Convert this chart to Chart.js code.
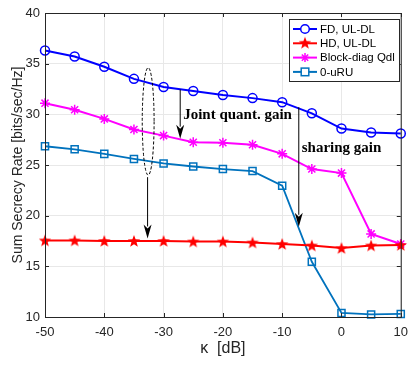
<!DOCTYPE html>
<html>
<head>
<meta charset="utf-8">
<script src="https://cdn.jsdelivr.net/npm/chart.js@4/dist/chart.umd.min.js"></script>
<style>
  html, body { margin: 0; padding: 0; background: #fff; }
  canvas { display: block; }
</style>
</head>
<body>
<canvas id="c" width="416" height="374"></canvas>
<script>
// kappa in dB
const kappa = [-50, -45, -40, -35, -30, -25, -20, -15, -10, -5, 0, 5, 10];
const fdUlDl = [36.3, 35.7, 34.7, 33.5, 32.7, 32.3, 31.9, 31.6, 31.2, 30.1, 28.6, 28.2, 28.1];
const hdUlDl = [17.55, 17.55, 17.5, 17.5, 17.5, 17.45, 17.45, 17.35, 17.2, 17.05, 16.8, 17.05, 17.1];
const blockDiag = [31.1, 30.45, 29.55, 28.5, 27.9, 27.25, 27.2, 27.0, 26.1, 24.6, 24.2, 18.2, 17.2];
const zeroURU = [26.85, 26.55, 26.1, 25.6, 25.15, 24.85, 24.6, 24.4, 22.95, 15.45, 10.4, 10.25, 10.3];
const xTicks = [-50, -40, -30, -20, -10, 0, 10];
const yTicks = [10, 15, 20, 25, 30, 35, 40];
const seriesNames = ['FD, UL-DL', 'HD, UL-DL', 'Block-diag Qdl', '0-uRU'];

// annotation anchors in data units
const ellipse = { x: -32.6, y: 29.3, rx: 1.0, ry: 5.3 };
const arrows = [
  { x: -32.7, from: 23.8, to: 17.75 },
  { x: -27.2, from: 32.45, to: 27.6 },
  { x: -7.2, from: 30.7, to: 18.9 },
];
const notes = [
  { text: 'Joint quant. gain', x: -26.7, y: 29.95 },
  { text: 'sharing gain', x: -6.7, y: 26.7 },
];

const colors = ['#0000ff', '#ff0000', '#ff00ff', '#0072bd'];

function starImage(color) {
  const cv = document.createElement('canvas');
  cv.width = 14; cv.height = 14;
  const g = cv.getContext('2d');
  g.beginPath();
  for (let i = 0; i < 10; i++) {
    const r = i % 2 === 0 ? 6.5 : 2.7;
    const a = -Math.PI / 2 + i * Math.PI / 5;
    const px = 7 + r * Math.cos(a), py = 7.5 + r * Math.sin(a);
    if (i === 0) g.moveTo(px, py); else g.lineTo(px, py);
  }
  g.closePath();
  g.fillStyle = color;
  g.fill();
  return cv;
}
const redStar = starImage(colors[1]);

function pts(ys) {
  return kappa.map((k, i) => ({ x: k, y: ys[i] }));
}

const FONT = 'Liberation Sans, Arial, sans-serif';

const extras = {
  id: 'extras',
  afterDraw(chart) {
    const { ctx, chartArea: a, scales } = chart;
    const xs = scales.x, ys = scales.y;
    ctx.save();
    // axes box
    ctx.strokeStyle = '#262626';
    ctx.lineWidth = 1;
    ctx.strokeRect(a.left + 0.5, a.top + 0.5, a.right - a.left, a.bottom - a.top);
    // inward ticks
    ctx.beginPath();
    xTicks.forEach(v => {
      const px = Math.round(xs.getPixelForValue(v)) + 0.5;
      ctx.moveTo(px, a.bottom); ctx.lineTo(px, a.bottom - 4);
      ctx.moveTo(px, a.top); ctx.lineTo(px, a.top + 4);
    });
    yTicks.forEach(v => {
      const py = Math.round(ys.getPixelForValue(v)) + 0.5;
      ctx.moveTo(a.left, py); ctx.lineTo(a.left + 4, py);
      ctx.moveTo(a.right, py); ctx.lineTo(a.right - 4, py);
    });
    ctx.stroke();

    // dashed ellipse
    const ex = xs.getPixelForValue(ellipse.x), ey = ys.getPixelForValue(ellipse.y);
    const erx = Math.abs(xs.getPixelForValue(ellipse.x + ellipse.rx) - ex);
    const ery = Math.abs(ys.getPixelForValue(ellipse.y + ellipse.ry) - ey);
    ctx.setLineDash([3, 2]);
    ctx.strokeStyle = '#000';
    ctx.beginPath();
    ctx.ellipse(ex, ey, erx, ery, 0, 0, Math.PI * 2);
    ctx.stroke();
    ctx.setLineDash([]);

    // arrows
    arrows.forEach(ar => {
      const px = xs.getPixelForValue(ar.x);
      const y0 = ys.getPixelForValue(ar.from), y1 = ys.getPixelForValue(ar.to);
      ctx.strokeStyle = '#000';
      ctx.lineWidth = 1;
      ctx.beginPath();
      ctx.moveTo(px, y0); ctx.lineTo(px, y1 - 12);
      ctx.stroke();
      ctx.fillStyle = '#000';
      ctx.beginPath();
      ctx.moveTo(px - 4, y1 - 14);
      ctx.lineTo(px, y1 - 10);
      ctx.lineTo(px + 4, y1 - 14);
      ctx.lineTo(px, y1);
      ctx.closePath();
      ctx.fill();
    });

    // text notes
    ctx.fillStyle = '#000';
    ctx.font = 'bold 15px "Liberation Serif", "Times New Roman", serif';
    ctx.textBaseline = 'middle';
    ctx.textAlign = 'left';
    notes.forEach(n => {
      ctx.fillText(n.text, xs.getPixelForValue(n.x), ys.getPixelForValue(n.y));
    });

    // legend
    const lx = 289, ly = 19, lw = 110, lh = 62;
    ctx.fillStyle = '#fff';
    ctx.fillRect(lx, ly, lw, lh);
    ctx.strokeStyle = '#262626';
    ctx.lineWidth = 1;
    ctx.strokeRect(lx + 0.5, ly + 0.5, lw, lh);
    ctx.font = '11.5px ' + FONT;
    ctx.textBaseline = 'middle';
    seriesNames.forEach((name, i) => {
      const yy = ly + 10 + i * 14.3;
      ctx.strokeStyle = colors[i];
      ctx.lineWidth = 2;
      ctx.beginPath();
      ctx.moveTo(lx + 4, yy); ctx.lineTo(lx + 28, yy);
      ctx.stroke();
      const mx = lx + 16;
      if (i === 0) {
        ctx.lineWidth = 1.5;
        ctx.beginPath(); ctx.arc(mx, yy, 4.3, 0, Math.PI * 2); ctx.fillStyle = '#fff'; ctx.fill(); ctx.stroke();
      } else if (i === 1) {
        ctx.drawImage(redStar, mx - 7, yy - 7.5);
      } else if (i === 2) {
        ctx.lineWidth = 1.5;
        ctx.beginPath();
        for (let k = 0; k < 4; k++) {
          const ang = k * Math.PI / 4;
          ctx.moveTo(mx - 4.5 * Math.cos(ang), yy - 4.5 * Math.sin(ang));
          ctx.lineTo(mx + 4.5 * Math.cos(ang), yy + 4.5 * Math.sin(ang));
        }
        ctx.stroke();
      } else {
        ctx.lineWidth = 1.5;
        ctx.fillStyle = '#fff';
        ctx.fillRect(mx - 3.8, yy - 3.8, 7.6, 7.6);
        ctx.strokeRect(mx - 3.8, yy - 3.8, 7.6, 7.6);
      }
      ctx.fillStyle = '#000';
      ctx.fillText(name, lx + 31, yy + 0.5);
    });
    ctx.restore();
  }
};

new Chart(document.getElementById('c'), {
  type: 'line',
  data: {
    datasets: [
      {
        label: seriesNames[0], data: pts(fdUlDl), borderColor: colors[0], borderWidth: 2,
        pointStyle: 'circle', pointRadius: 4.5, pointBorderWidth: 1.5,
        pointBackgroundColor: 'rgba(255,255,255,0)', pointBorderColor: colors[0], clip: false
      },
      {
        label: seriesNames[1], data: pts(hdUlDl), borderColor: colors[1], borderWidth: 2,
        pointStyle: redStar, pointRadius: 6, clip: false
      },
      {
        label: seriesNames[2], data: pts(blockDiag), borderColor: colors[2], borderWidth: 2,
        pointStyle: 'star', pointRadius: 5, pointBorderWidth: 1.5,
        pointBorderColor: colors[2], pointBackgroundColor: colors[2], clip: false
      },
      {
        label: seriesNames[3], data: pts(zeroURU), borderColor: colors[3], borderWidth: 1.8,
        pointStyle: 'rect', pointRadius: 5, pointBorderWidth: 1.5,
        pointBorderColor: colors[3], pointBackgroundColor: 'rgba(255,255,255,0)', clip: false
      },
    ]
  },
  options: {
    responsive: false,
    animation: false,
    devicePixelRatio: 1,
    layout: { padding: { top: 13, right: 11, left: 0, bottom: 0 } },
    plugins: { legend: { display: false }, tooltip: { enabled: false } },
    elements: { line: { tension: 0 } },
    scales: {
      x: {
        type: 'linear', min: -50, max: 10,
        afterBuildTicks: s => { s.ticks = xTicks.map(v => ({ value: v })); },
        afterFit: s => { s.height = 57; },
        ticks: { color: '#262626', font: { family: FONT, size: 13 }, padding: 8, maxRotation: 0 },
        grid: { color: '#e8e8e8', drawTicks: false },
        border: { display: false },
        title: { display: true, text: 'κ  [dB]', color: '#262626', font: { family: FONT, size: 16 }, padding: { top: 0, bottom: 16 } }
      },
      y: {
        min: 10, max: 40,
        afterBuildTicks: s => { s.ticks = yTicks.map(v => ({ value: v })); },
        afterFit: s => { s.width = 45; },
        ticks: { color: '#262626', font: { family: FONT, size: 13 }, padding: 5 },
        grid: { color: '#e8e8e8', drawTicks: false },
        border: { display: false },
        title: { display: true, text: 'Sum Secrecy Rate [bits/sec/Hz]', color: '#262626', font: { family: FONT, size: 14 }, padding: { top: 10, bottom: 0 } }
      }
    }
  },
  plugins: [extras]
});
</script>
</body>
</html>
